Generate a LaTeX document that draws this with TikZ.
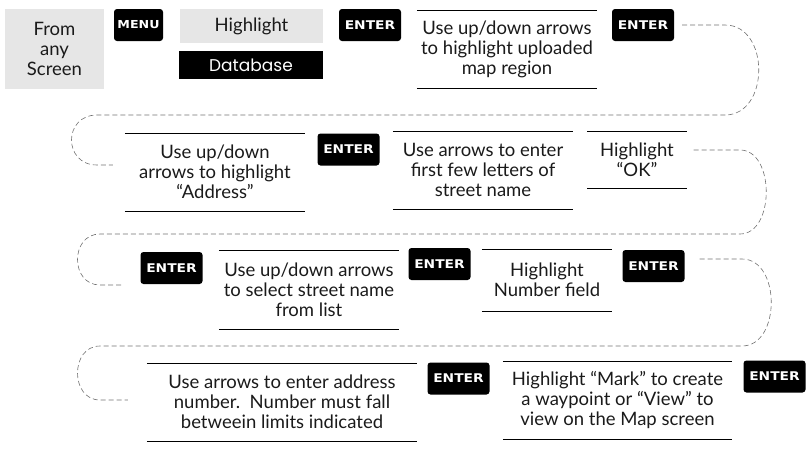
\documentclass[tikz,border=0pt]{standalone}
\usepackage{fontspec}
\setmainfont{Lato}
\newfontfamily\keyfont{DejaVu Sans}[FakeStretch=1.15]
\newfontfamily\dbfont{Poppins}
\usepackage{tikz}
\usetikzlibrary{positioning}

\definecolor{inkgray}{HTML}{1A1A1A}
\definecolor{panelgray}{HTML}{E6E6E6}
\definecolor{rulegray}{HTML}{555555}
\definecolor{dashgray}{HTML}{707070}

\tikzset{
    key/.style={fill=black, rounded corners=3pt, text=white, inner sep=0pt,
        minimum width=62pt, minimum height=32pt,
        font=\keyfont\bfseries\fontsize{12}{12}\selectfont},
    panel/.style={fill=panelgray, inner sep=0pt, align=center, text=inkgray},
    rulebox/.style={inner sep=0pt, align=center, text=inkgray,
        append after command={
            [draw=rulegray, line width=0.9pt]
            (\tikzlastnode.north west) edge (\tikzlastnode.north east)
            (\tikzlastnode.south west) edge (\tikzlastnode.south east)
        }},
    flowline/.style={draw=dashgray, line width=0.6pt, dash pattern=on 5pt off 3pt},
}

\begin{document}
\begin{tikzpicture}[x=1pt, y=-1pt,
        font=\fontsize{18.5}{20}\selectfont,
    ]
    \useasboundingbox (0,0) rectangle (810,448);

    % first row
    \node[panel, minimum width=99pt, minimum height=80pt] (from) at (54.5,49)
        {From\\any\\Screen};
    \node[key, minimum width=49pt, font=\keyfont\bfseries\fontsize{11}{11}\selectfont]
        (menu) at (138.5,25) {MENU};
    \node[panel, minimum width=143pt, minimum height=34pt] (hilite) at (251.5,26)
        {Highlight};
    \node[fill=black, text=white, minimum width=144pt, minimum height=28pt, inner sep=0pt,
        font=\dbfont\fontsize{17}{17}\selectfont] (dbase) at (251,65) {Database};
    \node[key] (enterA) at (370,25) {ENTER};
    \node[rulebox, minimum width=180pt, minimum height=78pt] (regionstep) at (507,49)
        {Use up/down arrows\\to highlight uploaded\\map region};
    \node[key] (enterB) at (643,25) {ENTER};

    % second row
    \node[rulebox, minimum width=180pt, minimum height=78pt] (addrstep) at (215,172)
        {Use up/down\\arrows to highlight\\``Address''};
    \node[key] (enterC) at (348.5,149.5) {ENTER};
    \node[rulebox, minimum width=180pt, minimum height=78pt] (letterstep) at (483,170)
        {Use arrows to enter\\first few letters of\\street name};
    \node[rulebox, minimum width=99pt, minimum height=57pt] (okstep) at (637,159.5)
        {Highlight\\``OK''};

    % third row
    \node[key] (enterD) at (171.5,268) {ENTER};
    \node[rulebox, minimum width=180pt, minimum height=79pt] (liststep) at (309,289.5)
        {Use up/down arrows\\to select street name\\from list};
    \node[key] (enterE) at (439.5,264) {ENTER};
    \node[rulebox, minimum width=130pt, minimum height=62pt] (numstep) at (547,280)
        {Highlight\\Number field};
    \node[key] (enterF) at (653.5,266) {ENTER};

    % fourth row
    \node[rulebox, minimum width=270pt, minimum height=78pt] (limitstep) at (282,402)
        {Use arrows to enter address\\number.\ \ Number must fall\\betweein limits indicated};
    \node[key] (enterG) at (458.5,378.5) {ENTER};
    \node[rulebox, minimum width=229pt, minimum height=78pt] (markstep) at (617.5,400)
        {Highlight ``Mark'' to create\\a waypoint or ``View'' to\\view on the Map screen};
    \node[key] (enterH) at (774.5,376.5) {ENTER};

    % winding connectors between rows
    \draw[flowline] ([xshift=8pt]enterB.east) -- (725,25)
        .. controls (770,25) and (770,115) .. (725,115) -- (97,115)
        .. controls (63,115) and (63,165) .. (97,165)
        -- ([xshift=-12pt,yshift=7pt]addrstep.west);
    \draw[flowline] ([xshift=7pt,yshift=9.5pt]okstep.east) -- (740,150)
        .. controls (775,150) and (775,234) .. (740,234) -- (100,234)
        .. controls (70,234) and (70,285) .. (100,285)
        -- ([xshift=-17pt,yshift=-17pt]enterD.west);
    \draw[flowline] ([xshift=15pt,yshift=7pt]enterF.east) -- (742,259)
        .. controls (781,259) and (781,346) .. (742,346) -- (100,346)
        .. controls (70,346) and (70,400) .. (100,400)
        -- ([xshift=-19pt,yshift=2pt]limitstep.west);
\end{tikzpicture}
\end{document}
